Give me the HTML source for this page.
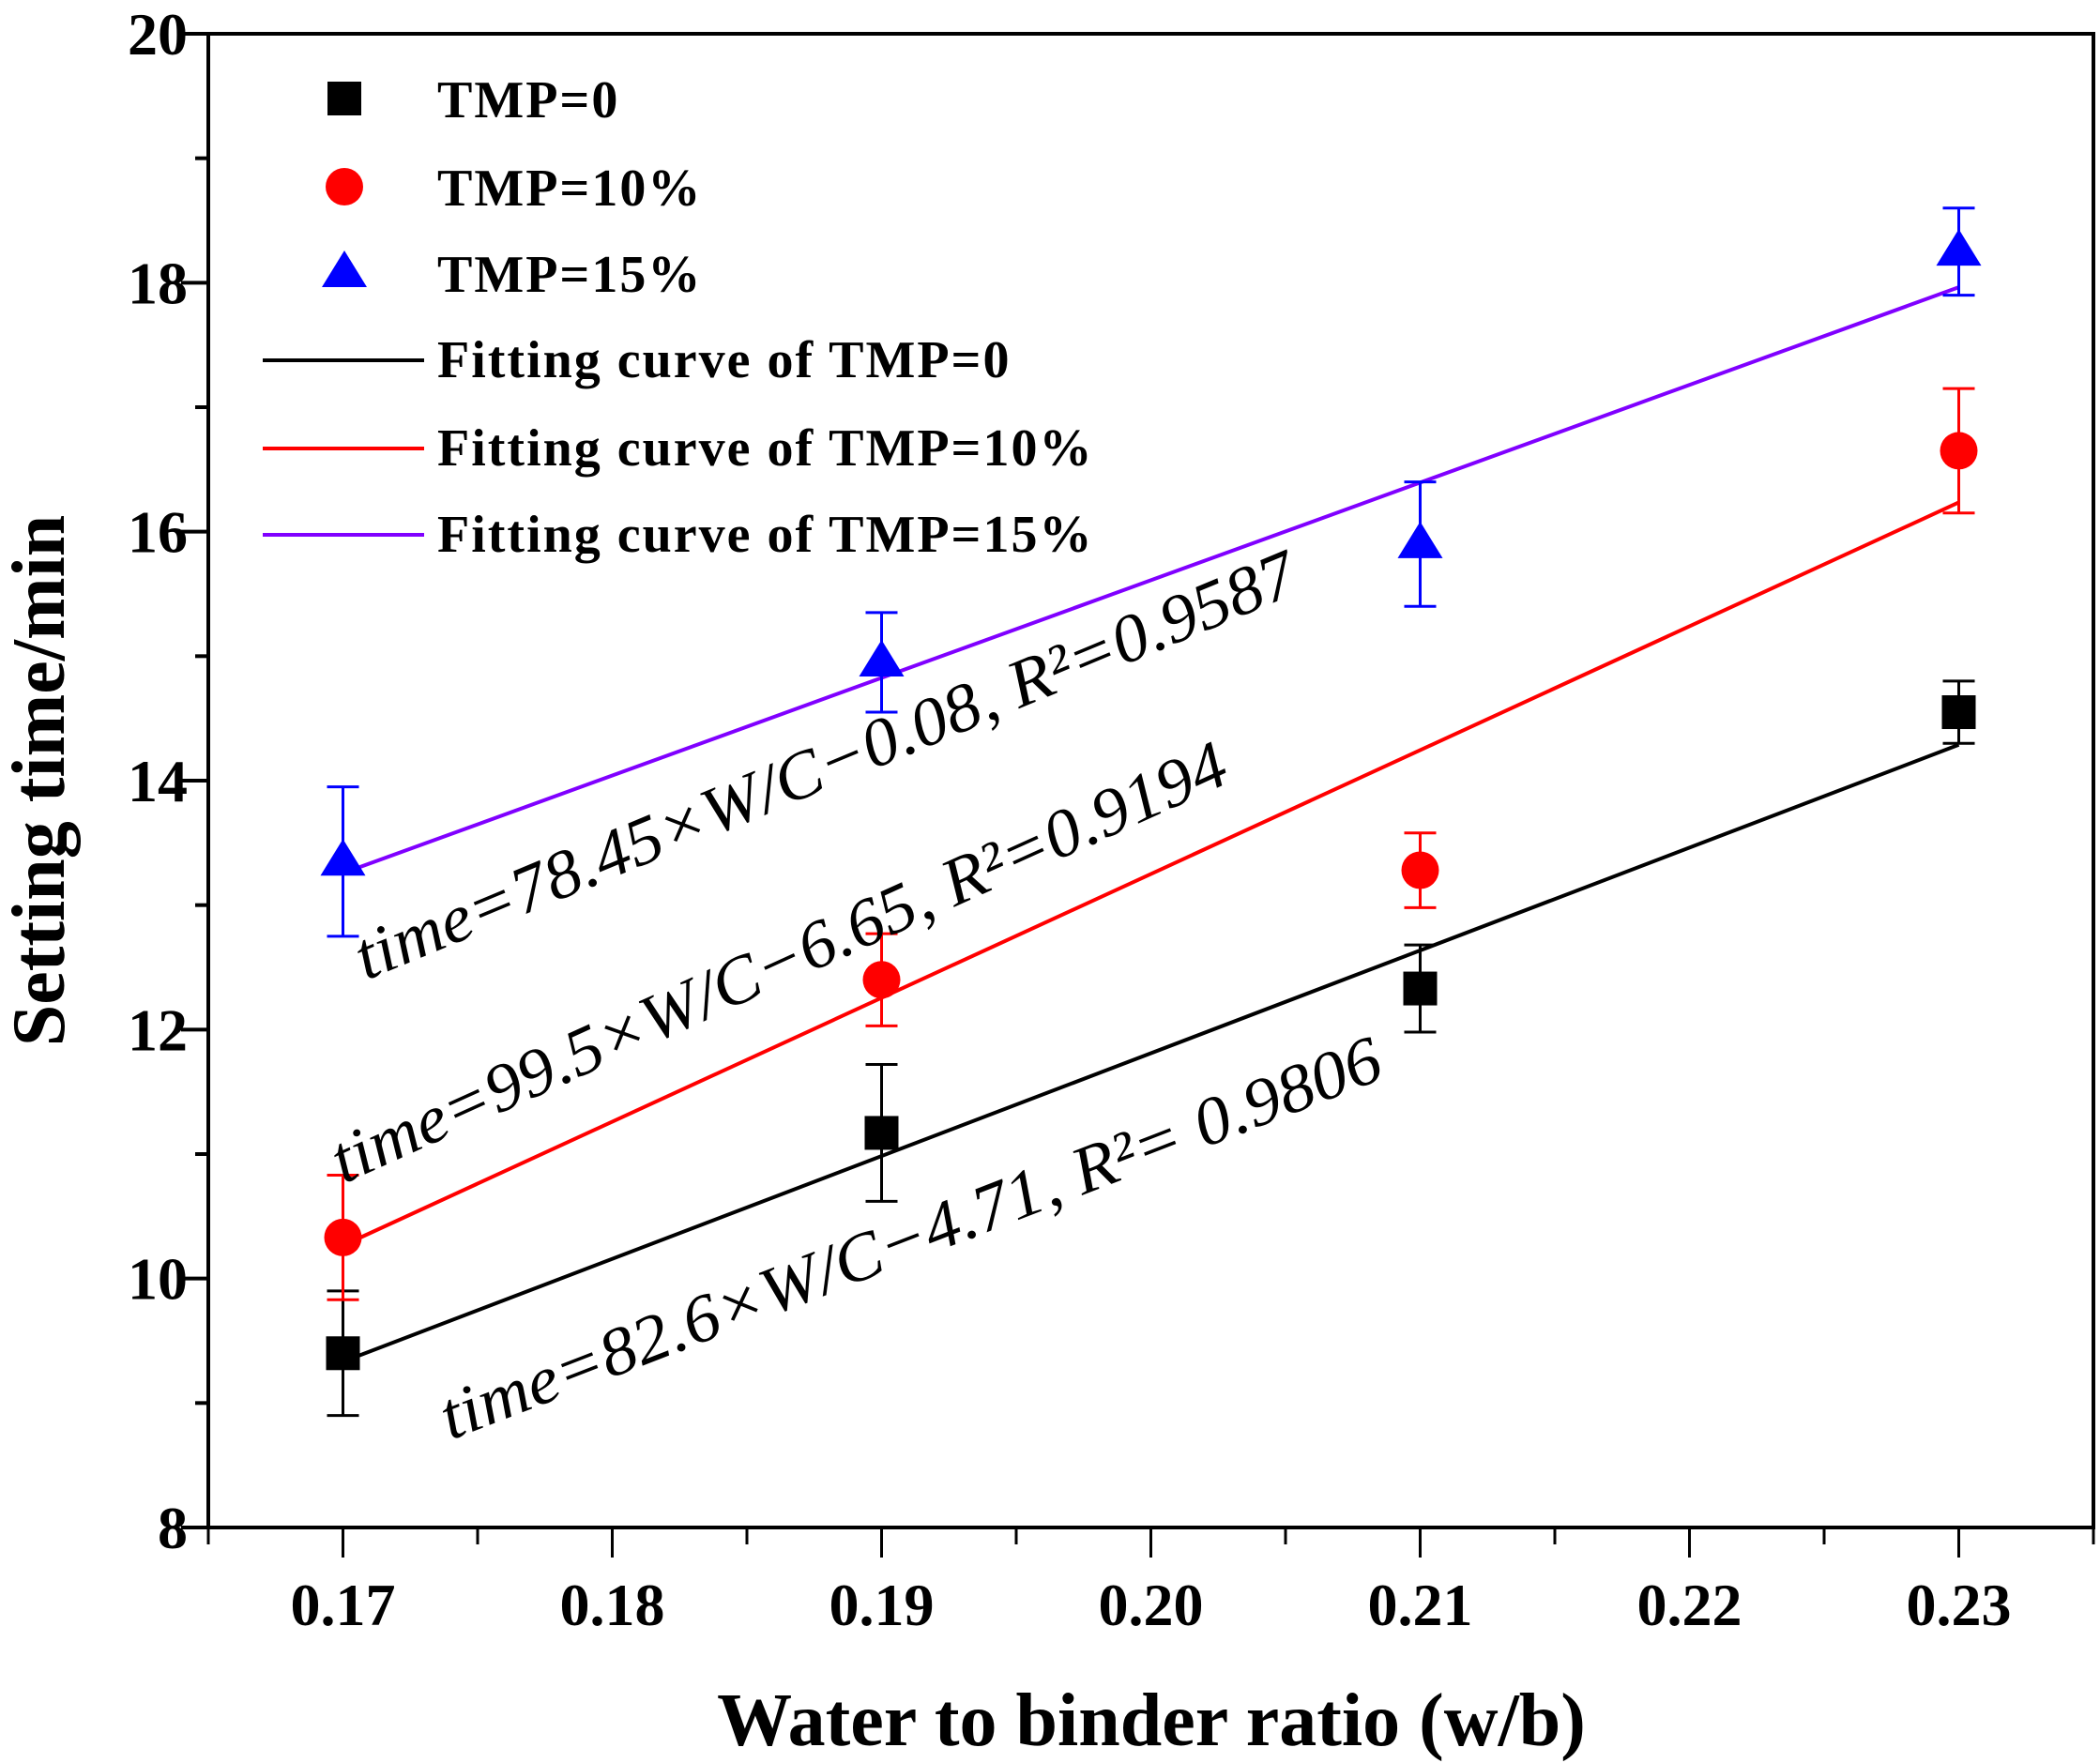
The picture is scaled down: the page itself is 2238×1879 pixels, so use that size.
<!DOCTYPE html>
<html><head><meta charset="utf-8"><style>
html,body{margin:0;padding:0;background:#fff;}
svg{display:block;font-family:"Liberation Serif",serif;font-weight:bold;}
</style></head><body>
<svg id="chart" width="2238" height="1879" viewBox="0 0 2238 1879" xmlns="http://www.w3.org/2000/svg">
<g id="plot"></g>
</svg>
<script>
const xCategories = [0.17, 0.19, 0.21, 0.23];
const tmp0Values = [9.4, 11.17, 12.33, 14.55];
const tmp0Errors = [0.5, 0.55, 0.35, 0.25];
const tmp10Values = [10.33, 12.4, 13.28, 16.65];
const tmp10Errors = [0.5, 0.37, 0.3, 0.5];
const tmp15Values = [13.35, 14.95, 15.9, 18.25];
const tmp15Errors = [0.6, 0.4, 0.5, 0.35];
const fitSlopes = [82.6, 99.5, 78.45];
const fitIntercepts = [-4.71, -6.65, -0.08];
const xTickLabels = ["0.17","0.18","0.19","0.20","0.21","0.22","0.23"];
const yTickLabels = ["8","10","12","14","16","18","20"];

const NS="http://www.w3.org/2000/svg";
const L=222,R=2231,T=36,B=1628;
const xMin=0.165,xMax=0.235,yMin=8,yMax=20;
const sx=v=>L+(v-xMin)/(xMax-xMin)*(R-L);
const sy=v=>B-(v-yMin)/(yMax-yMin)*(B-T);
const g=document.getElementById('plot');
function mk(tag,attrs,parent){const e=document.createElementNS(NS,tag);for(const k in attrs)e.setAttribute(k,attrs[k]);(parent||g).appendChild(e);return e;}

// frame
let e=mk('rect',{x:L,y:T,width:R-L,height:B-T,fill:'none',stroke:'#000','stroke-width':4});



// y ticks
for(let v=8;v<=20;v++){
  const major=v%2===0;
  e=mk('line',{x1:L,x2:L-(major?29:14),y1:sy(v),y2:sy(v),stroke:'#000','stroke-width':4});
  
  
}
yTickLabels.forEach(s=>{
  const t=mk('text',{x:200,y:sy(+s)+22,'text-anchor':'end','font-size':64});
  t.textContent=s;
  
  
});
// x ticks
for(let i=0;i<=14;i++){
  const v=0.165+i*0.005;
  const major=i%2===1;
  e=mk('line',{x1:sx(v),x2:sx(v),y1:B,y2:B+(major?32:18),stroke:'#000','stroke-width':3});
  
  
}
xTickLabels.forEach(s=>{
  const t=mk('text',{x:sx(+s),y:1732,'text-anchor':'middle','font-size':64});
  t.textContent=s;
  
  
});
// axis titles
e=mk('text',{x:1227,y:1860,'text-anchor':'middle','font-size':80});
e.textContent='Water to binder ratio (w/b)';


e=mk('text',{x:0,y:0,'text-anchor':'middle','font-size':80,transform:'translate(68,832) rotate(-90)'});
e.textContent='Setting time/min';



// fit lines
const fitColors=['#000','#ff0000','#8000ff'];
const fitNames=['fit-line-tmp0','fit-line-tmp10','fit-line-tmp15'];
fitSlopes.forEach((m,i)=>{
  const x0=xCategories[0],x1=xCategories[xCategories.length-1];
  e=mk('line',{x1:sx(x0),y1:sy(m*x0+fitIntercepts[i]),x2:sx(x1),y2:sy(m*x1+fitIntercepts[i]),stroke:fitColors[i],'stroke-width':4});
  
  
});

// series
function marker(kind,cx,cy,color,parent){
  let m;
  if(kind==='square') m=mk('rect',{x:cx-18,y:cy-18,width:36,height:36,fill:color},parent);
  else if(kind==='circle') m=mk('ellipse',{cx:cx,cy:cy,rx:20,ry:20,fill:color},parent);
  else m=mk('polygon',{points:`${cx},${cy-24} ${cx+24},${cy+15} ${cx-24},${cy+15}`,fill:color},parent);
  return m;
}
const series=[
  {vals:tmp0Values,errs:tmp0Errors,color:'#000',kind:'square',name:'tmp0'},
  {vals:tmp10Values,errs:tmp10Errors,color:'#ff0000',kind:'circle',name:'tmp10'},
  {vals:tmp15Values,errs:tmp15Errors,color:'#0000ff',kind:'triangle',name:'tmp15'}
];
series.forEach(s=>{
  s.vals.forEach((v,i)=>{
    const cx=sx(xCategories[i]),cy=sy(v),top=sy(v+s.errs[i]),bot=sy(v-s.errs[i]);
    e=mk('path',{d:`M${cx},${top}V${bot}M${cx-17},${top}H${cx+17}M${cx-17},${bot}H${cx+17}`,stroke:s.color,'stroke-width':3,fill:'none'});
    
    
    e=marker(s.kind,cx,cy,s.color);
    
    
  });
});

// equations
const eqs=[
  {txt:'time=78.45×W/C−0.08, R²=0.9587',x:390,y:1045,a:-22.6,len:1080,n:'equation-tmp15'},
  {txt:'time=99.5×W/C−6.65, R²=0.9194',x:366,y:1262,a:-24.4,len:1040,n:'equation-tmp10'},
  {txt:'time=82.6×W/C−4.71,  R²= 0.9806',x:480,y:1535,a:-21.2,len:1070,n:'equation-tmp0'}
];
eqs.forEach(q=>{
  e=mk('text',{x:0,y:0,'font-size':72,'font-style':'italic','font-weight':'normal',textLength:q.len,lengthAdjust:'spacingAndGlyphs',transform:`translate(${q.x},${q.y}) rotate(${q.a})`});
  e.textContent=q.txt;
  
  
});

// legend
const lg=mk('g',{});


const legendMarkers=[['square','#000','TMP=0',105],['circle','#ff0000','TMP=10%',199],['triangle','#0000ff','TMP=15%',291]];
legendMarkers.forEach(l=>{
  e=marker(l[0],367,l[3],l[1],lg);
  
  
  e=mk('text',{x:466,y:l[3]+20,'font-size':56,'letter-spacing':2},lg);
  e.textContent=l[2];
  
  
});
const legendLines=[['#000','Fitting curve of TMP=0',384],['#ff0000','Fitting curve of TMP=10%',478],['#8000ff','Fitting curve of TMP=15%',570]];
legendLines.forEach(l=>{
  e=mk('line',{x1:280,x2:452,y1:l[2],y2:l[2],stroke:l[0],'stroke-width':4},lg);
  
  
  e=mk('text',{x:466,y:l[2]+18,'font-size':56,'letter-spacing':2},lg);
  e.textContent=l[1];
  
  
});
</script>
</body></html>
